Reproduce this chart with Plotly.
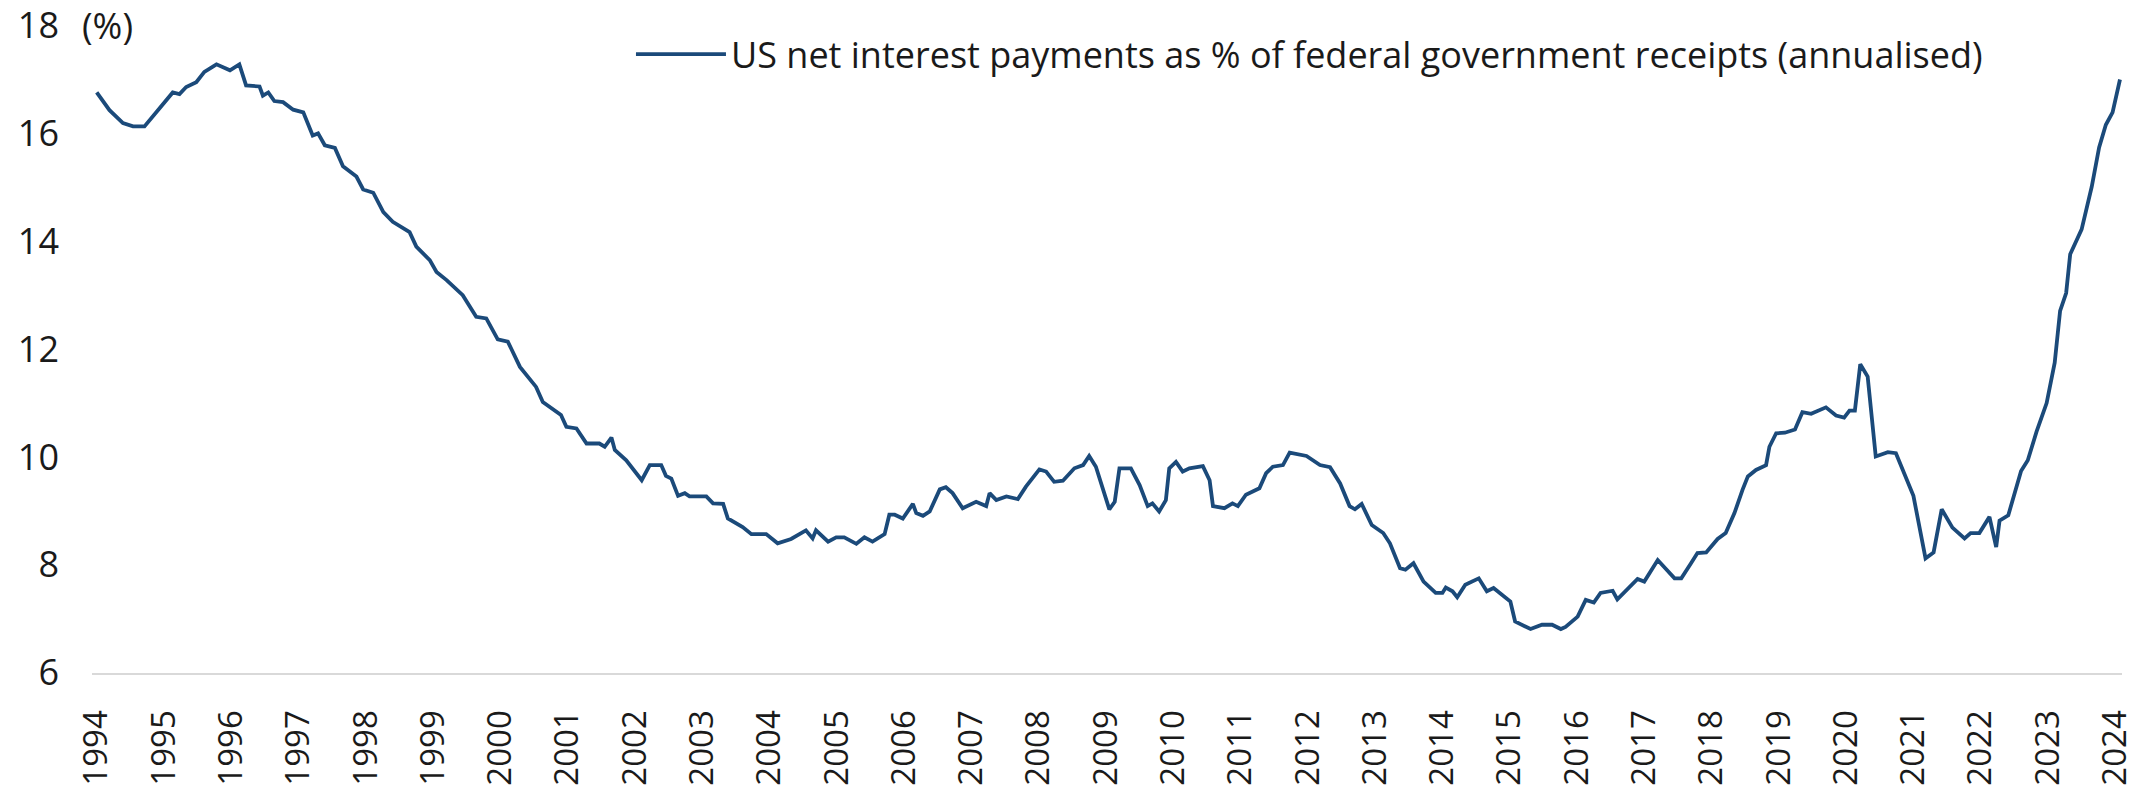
import plotly.graph_objects as go

# Decimal-year time stamps and values
t_years = [
    1994.00, 1994.19, 1994.39, 1994.54, 1994.71, 1994.91, 1995.13, 1995.23, 1995.33, 1995.48,
    1995.60, 1995.78, 1995.98, 1996.12, 1996.22, 1996.42, 1996.47, 1996.55, 1996.64, 1996.77,
    1996.92, 1997.07, 1997.21, 1997.29, 1997.39, 1997.54, 1997.66, 1997.86, 1997.96, 1998.11,
    1998.26, 1998.40, 1998.65, 1998.75, 1998.95, 1999.05, 1999.20, 1999.44, 1999.64, 1999.79,
    1999.96, 2000.11, 2000.29, 2000.53, 2000.63, 2000.90, 2000.98, 2001.13, 2001.28, 2001.47,
    2001.55, 2001.65, 2001.70, 2001.87, 2002.10, 2002.22, 2002.39, 2002.46, 2002.54, 2002.64,
    2002.74, 2002.81, 2003.06, 2003.16, 2003.31, 2003.38, 2003.60, 2003.73, 2003.95, 2004.12,
    2004.32, 2004.54, 2004.64, 2004.69, 2004.87, 2004.99, 2005.11, 2005.29, 2005.41, 2005.53,
    2005.71, 2005.78, 2005.86, 2005.98, 2006.13, 2006.18, 2006.28, 2006.38, 2006.53, 2006.62,
    2006.72, 2006.87, 2007.07, 2007.22, 2007.27, 2007.37, 2007.52, 2007.69, 2007.81, 2008.01,
    2008.11, 2008.23, 2008.36, 2008.53, 2008.66, 2008.75, 2008.85, 2009.05, 2009.13, 2009.20,
    2009.37, 2009.50, 2009.62, 2009.69, 2009.79, 2009.89, 2009.94, 2010.04, 2010.14, 2010.24,
    2010.44, 2010.54, 2010.59, 2010.76, 2010.88, 2010.96, 2011.08, 2011.28, 2011.38, 2011.48,
    2011.63, 2011.73, 2011.88, 2011.98, 2012.18, 2012.33, 2012.48, 2012.62, 2012.70, 2012.80,
    2012.95, 2013.12, 2013.22, 2013.37, 2013.45, 2013.57, 2013.72, 2013.90, 2014.00, 2014.05,
    2014.15, 2014.22, 2014.34, 2014.54, 2014.66, 2014.76, 2015.01, 2015.08, 2015.31, 2015.48,
    2015.63, 2015.76, 2015.83, 2016.01, 2016.13, 2016.25, 2016.35, 2016.53, 2016.60, 2016.80,
    2016.90, 2017.00, 2017.20, 2017.45, 2017.55, 2017.69, 2017.79, 2017.92, 2018.09, 2018.21,
    2018.34, 2018.46, 2018.54, 2018.66, 2018.81, 2018.86, 2018.96, 2019.09, 2019.24, 2019.35,
    2019.48, 2019.70, 2019.85, 2019.97, 2020.05, 2020.13, 2020.21, 2020.32, 2020.44, 2020.62,
    2020.74, 2021.00, 2021.18, 2021.30, 2021.42, 2021.58, 2021.76, 2021.85, 2021.98, 2022.13,
    2022.23, 2022.28, 2022.41, 2022.60, 2022.70, 2022.83, 2022.98, 2023.10, 2023.18, 2023.27,
    2023.33, 2023.50, 2023.65, 2023.76, 2023.86, 2023.96, 2024.07,
]

interest_pct = [
    16.76, 16.43, 16.19, 16.13, 16.13, 16.43, 16.76, 16.73, 16.86, 16.95,
    17.14, 17.28, 17.17, 17.28, 16.89, 16.87, 16.70, 16.76, 16.60, 16.58,
    16.44, 16.39, 15.96, 16.00, 15.78, 15.73, 15.39, 15.20, 14.96, 14.90,
    14.54, 14.36, 14.17, 13.90, 13.65, 13.43, 13.28, 13.00, 12.60, 12.57,
    12.18, 12.14, 11.67, 11.30, 11.02, 10.78, 10.56, 10.53, 10.25, 10.25,
    10.19, 10.36, 10.13, 9.94, 9.57, 9.85, 9.85, 9.65, 9.60, 9.28,
    9.33, 9.27, 9.27, 9.14, 9.13, 8.86, 8.70, 8.57, 8.57, 8.40,
    8.48, 8.64, 8.49, 8.64, 8.43, 8.51, 8.51, 8.39, 8.51, 8.43,
    8.57, 8.93, 8.93, 8.86, 9.13, 8.96, 8.91, 8.99, 9.40, 9.44,
    9.33, 9.05, 9.17, 9.09, 9.33, 9.20, 9.27, 9.22, 9.45, 9.77,
    9.73, 9.54, 9.56, 9.79, 9.85, 10.02, 9.82, 9.03, 9.17, 9.79,
    9.79, 9.48, 9.09, 9.14, 8.99, 9.20, 9.79, 9.91, 9.73, 9.79,
    9.83, 9.57, 9.09, 9.05, 9.14, 9.09, 9.30, 9.42, 9.70, 9.82,
    9.85, 10.08, 10.04, 10.02, 9.85, 9.81, 9.51, 9.09, 9.03, 9.13,
    8.74, 8.59, 8.40, 7.94, 7.91, 8.03, 7.69, 7.48, 7.48, 7.58,
    7.51, 7.40, 7.63, 7.75, 7.51, 7.57, 7.32, 6.95, 6.81, 6.89,
    6.89, 6.81, 6.85, 7.04, 7.35, 7.30, 7.48, 7.52, 7.36, 7.60,
    7.74, 7.69, 8.09, 7.75, 7.75, 8.02, 8.22, 8.23, 8.48, 8.59,
    8.96, 9.39, 9.64, 9.76, 9.85, 10.19, 10.44, 10.45, 10.51, 10.83,
    10.80, 10.92, 10.77, 10.73, 10.86, 10.86, 11.72, 11.49, 10.01, 10.09,
    10.07, 9.28, 8.12, 8.23, 9.03, 8.69, 8.49, 8.59, 8.59, 8.89,
    8.33, 8.82, 8.92, 9.74, 9.94, 10.47, 11.00, 11.75, 12.71, 13.04,
    13.76, 14.22, 15.01, 15.74, 16.16, 16.39, 17.00,
]

year_ticks = list(range(1994, 2025))
year_labels = [str(y) for y in year_ticks]
y_ticks = [6, 8, 10, 12, 14, 16, 18]
y_labels = [str(v) for v in y_ticks]

series_name = "US net interest payments as % of federal government receipts (annualised)"

FONT = "Open Sans"
TXT = "#1a1a1a"

fig = go.Figure()
fig.add_trace(go.Scatter(
    x=t_years, y=interest_pct, mode="lines", name=series_name,
    line=dict(color="#1B4A7A", width=3.8),
))

fig.update_layout(
    width=2153, height=786,
    margin=dict(l=92, r=31, t=25, b=113, autoexpand=False),
    paper_bgcolor="white", plot_bgcolor="white",
    font=dict(family=FONT, size=33, color=TXT),
    showlegend=True,
    legend=dict(x=0.2655, y=0.955, xanchor="left", yanchor="middle", itemwidth=90,
                bgcolor="rgba(0,0,0,0)", font=dict(family=FONT, size=36, color=TXT)),
    xaxis=dict(
        range=[1993.93, 2024.1], tickmode="array", tickvals=year_ticks, ticktext=year_labels,
        tickangle=-90, showgrid=False, zeroline=False, showline=True, automargin=False,
        linecolor="#D9D9D9", linewidth=2, ticks="", ticklabelstandoff=22,
        ticklabeloverflow="allow", tickfont=dict(family=FONT, size=33, color=TXT),
    ),
    yaxis=dict(
        range=[5.995, 18.01], tickmode="array", tickvals=y_ticks, ticktext=y_labels,
        showgrid=False, zeroline=False, showline=False, ticks="", ticklabelstandoff=32,
        automargin=False, ticklabeloverflow="allow",
        tickfont=dict(family=FONT, size=36, color=TXT),
    ),
    annotations=[dict(
        text="(%)", xref="paper", yref="paper", x=-0.006, y=1.0, xanchor="left",
        yanchor="middle", showarrow=False, font=dict(family=FONT, size=36, color=TXT),
    )],
)

# Remove the browser's default 8px body margin so the figure fills the window exactly.
fig.write_html("out.html", config={"displayModeBar": False},
               post_script="document.body.style.margin='0';")
